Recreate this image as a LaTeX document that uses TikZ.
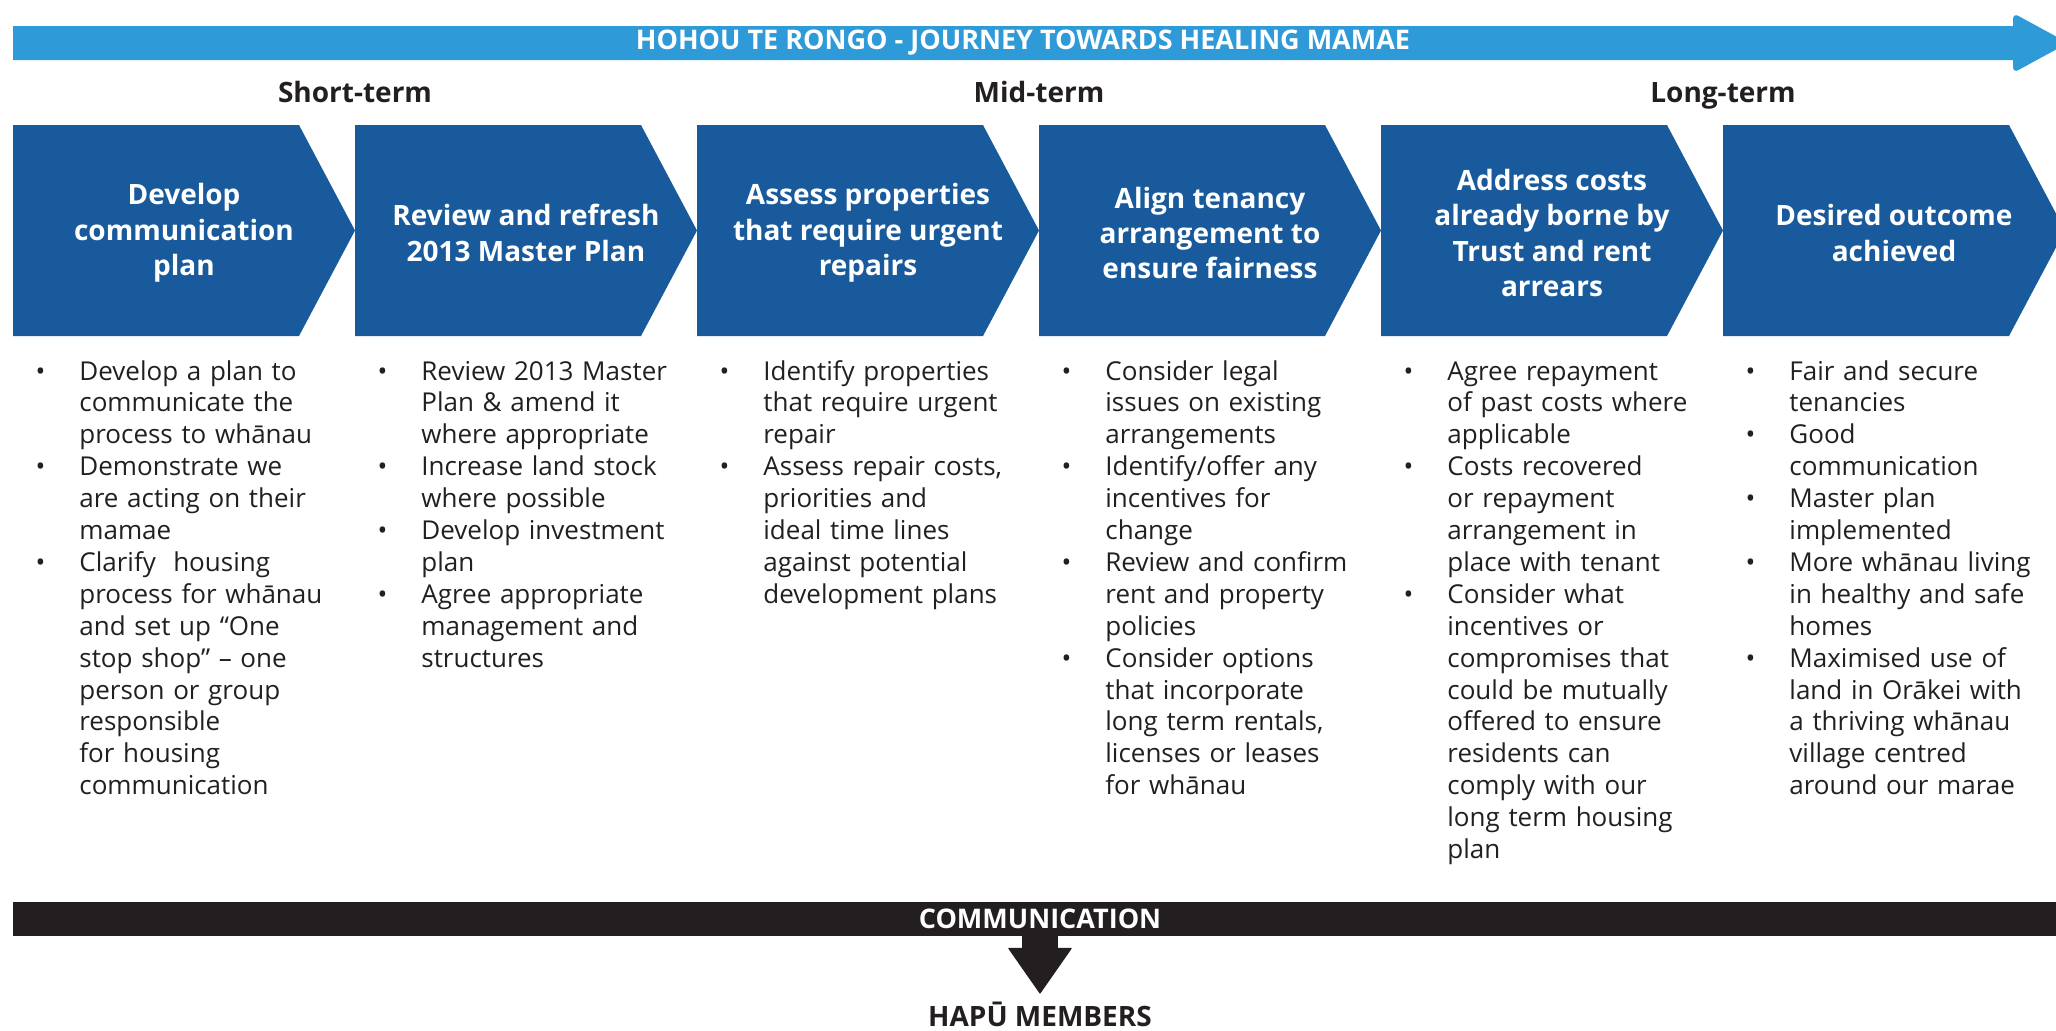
\documentclass[tikz,border=0pt]{standalone}
\usepackage{fontspec}
\setmainfont{Open Sans}
\usetikzlibrary{arrows.meta, positioning}
\definecolor{journeyBlue}{RGB}{46,154,216}
\definecolor{stepBlue}{RGB}{24,90,155}
\definecolor{darkInk}{RGB}{35,31,32}
\tikzset{
    banner/.style={fill=journeyBlue},
    chevron/.style={fill=stepBlue},
    steptitle/.style={text=white, font=\fontsize{14pt}{17.7pt}\selectfont\bfseries, align=center, inner sep=0pt},
    phase/.style={text=darkInk, font=\fontsize{14pt}{17pt}\selectfont\bfseries, inner sep=0pt, anchor=base},
    bullets/.style={text=darkInk, font=\fontsize{13pt}{15.95pt}\selectfont, text width=150pt, align=left, inner sep=0pt, anchor=base west},
    bartext/.style={text=white, font=\fontsize{13.5pt}{16pt}\selectfont\bfseries, inner sep=0pt},
    commarrow/.style={darkInk, line width=18pt, -{Triangle[width=32pt, length=23pt, line width=0.5pt, round]}}
}
\newcommand{\bul}{\leavevmode\llap{\textbullet\hspace{17pt}}}

\begin{document}
\begin{tikzpicture}[x=0.5pt, y=-0.5pt]
    \useasboundingbox (0,0) rectangle (2056,1030);
    \clip (0,0) rectangle (2056,1030);

    % Banner arrow across the top
    \fill[banner] (13,26) -- (2013,26) [rounded corners=3pt] -- (2013,13) -- (2068,43) -- (2013,73) [sharp corners] -- (2013,60) -- (13,60) -- cycle;
    \node[bartext] (journey) at (1023,43) {HOHOU TE RONGO - JOURNEY TOWARDS HEALING MAMAE};

    % Phase labels
    \node[phase] (short) at (355,102.6) {Short-term};
    \node[phase] (mid) at (1039,102.6) {Mid-term};
    \node[phase] (long) at (1723,102.6) {Long-term};

    % The six steps
    \foreach \i/\title in {0/{Develop\\communication\\plan},
                           1/{Review and refresh\\2013 Master Plan},
                           2/{Assess properties\\that require urgent\\repairs},
                           3/{Align tenancy\\arrangement to\\ensure fairness},
                           4/{Address costs\\already borne by\\Trust and rent\\arrears},
                           5/{Desired outcome\\achieved}} {
        \fill[chevron] ({13+342*\i},125) -- ++(286,0) -- ++(56,105.5) -- ++(-56,105.5) -- ++(-286,0) -- cycle;
        \node[steptitle] (step\i) at ({184+342*\i},233) {\title};
    }

    % Actions under each step
    \node[bullets] (list0) at (79,380) {\bul Develop a plan to\\communicate the\\process to whānau\\
        \bul Demonstrate we\\are acting on their\\mamae\\
        \bul Clarify~~housing\\process for whānau\\and set up “One\\stop shop” – one\\person or group\\responsible\\for housing\\communication};
    \node[bullets] (list1) at (421,380) {\bul Review 2013 Master\\Plan \& amend it\\where appropriate\\
        \bul Increase land stock\\where possible\\
        \bul Develop investment\\plan\\
        \bul Agree appropriate\\management and\\structures};
    \node[bullets] (list2) at (763,380) {\bul Identify properties\\that require urgent\\repair\\
        \bul Assess repair costs,\\priorities and\\ideal time lines\\against potential\\development plans};
    \node[bullets] (list3) at (1105,380) {\bul Consider legal\\issues on existing\\arrangements\\
        \bul Identify/offer any\\incentives for\\change\\
        \bul Review and confirm\\rent and property\\policies\\
        \bul Consider options\\that incorporate\\long term rentals,\\licenses or leases\\for whānau};
    \node[bullets] (list4) at (1447,380) {\bul Agree repayment\\of past costs where\\applicable\\
        \bul Costs recovered\\or repayment\\arrangement in\\place with tenant\\
        \bul Consider what\\incentives or\\compromises that\\could be mutually\\offered to ensure\\residents can\\comply with our\\long term housing\\plan};
    \node[bullets] (list5) at (1789,380) {\bul Fair and secure\\tenancies\\
        \bul Good\\communication\\
        \bul Master plan\\implemented\\
        \bul More whānau living\\in healthy and safe\\homes\\
        \bul Maximised use of\\land in Orākei with\\a thriving whānau\\village centred\\around our marae};

    % Communication bar and its arrow
    \fill[darkInk] (13,902) rectangle (2056,936);
    \node[bartext, minimum height=17pt] (comm) at (1040,919) {COMMUNICATION};
    \node[phase, text height=9.6pt, text depth=0pt] (hapu) at (1040,1026) {HAPŪ MEMBERS};
    \draw[commarrow, shorten >=6.4pt] (comm.south) -- (hapu.north);
\end{tikzpicture}
\end{document}
